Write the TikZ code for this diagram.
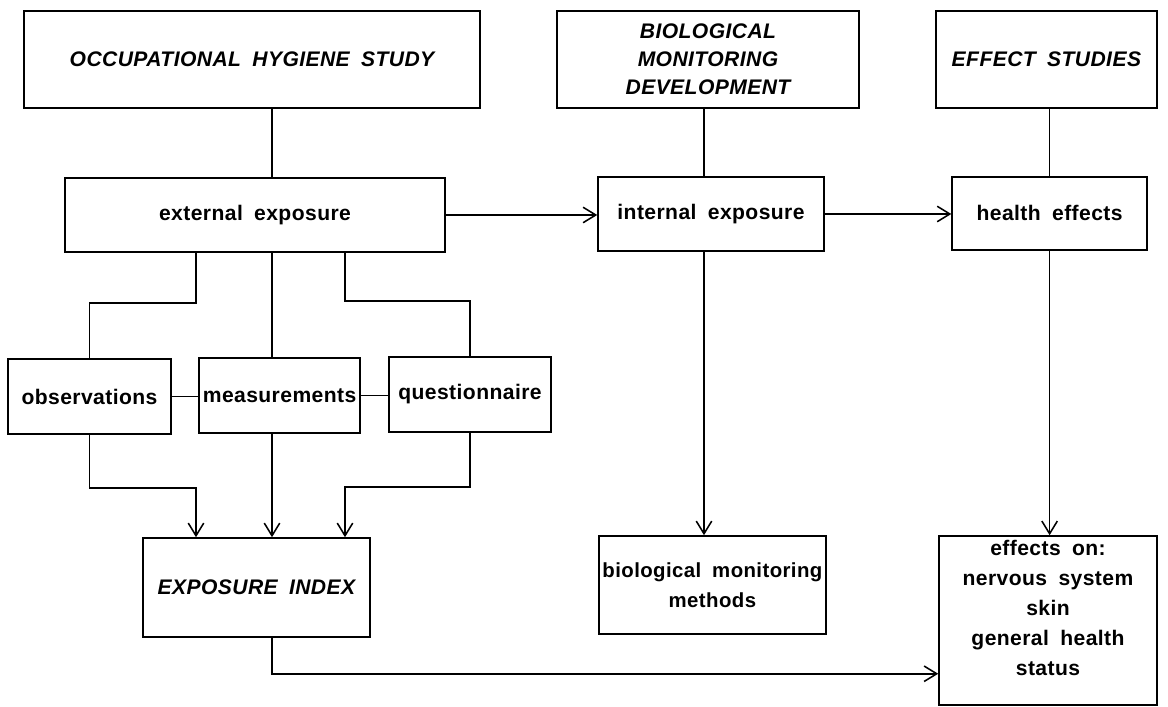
\documentclass[tikz,border=0pt]{standalone}
\usepackage{fontspec}
\setmainfont{Liberation Sans}[LetterSpace=2, WordSpace=1.8]
\usepackage{tikz}
\usetikzlibrary{arrows.meta,calc}
\tikzset{every node/.append style={align=center}}
\tikzset{
    box/.style={draw, line width=1.1pt, inner sep=1pt, font=\fontsize{15}{21}\selectfont\bfseries},
    titlebox/.style={box, font=\fontsize{15}{20}\selectfont\bfseries\itshape},
    link/.style={line width=1.1pt},
    flow/.style={line width=1.1pt, -{Straight Barb[length=9pt, width=11pt]}}
}

\begin{document}
\begin{tikzpicture}
    \useasboundingbox (0, 0) rectangle (29.2, 17.675);

    % Study headings
    \node[titlebox, minimum width=11.4cm, minimum height=2.425cm] (ohs) at (6.3, 16.19) {OCCUPATIONAL HYGIENE STUDY};
    \node[titlebox, minimum width=7.55cm, minimum height=2.425cm] (bmd) at (17.7, 16.19) {BIOLOGICAL\\MONITORING\\DEVELOPMENT};
    \node[titlebox, minimum width=5.525cm, minimum height=2.425cm] (es) at (26.16, 16.19) {EFFECT STUDIES};

    % Exposure row
    \node[box, minimum width=9.5cm, minimum height=1.85cm] (extexp) at (6.375, 12.3) {external exposure};
    \node[box, minimum width=5.65cm, minimum height=1.85cm] (intexp) at (17.775, 12.325) {internal exposure};
    \node[box, minimum width=4.875cm, minimum height=1.825cm] (hef) at (26.24, 12.34) {health effects};

    % Exposure sources
    \node[box, minimum width=4.075cm, minimum height=1.875cm] (obs) at (2.2375, 7.7625) {observations};
    \node[box, minimum width=4.025cm, minimum height=1.875cm] (meas) at (6.99, 7.7875) {measurements};
    \node[box, minimum width=4.05cm, minimum height=1.875cm] (quest) at (11.75, 7.8125) {questionnaire};

    % Results
    \node[titlebox, minimum width=5.675cm, minimum height=2.475cm] (ei) at (6.41, 2.9875) {EXPOSURE INDEX};
    \node[box, minimum width=5.675cm, minimum height=2.45cm, font=\fontsize{14.5}{21}\selectfont\bfseries] (bmm) at (17.81, 3.05) {biological monitoring\\methods};
    \node[box, minimum width=5.45cm, minimum height=4.225cm, text depth=18pt, font=\fontsize{15}{21.5}\selectfont\bfseries] (fx) at (26.2, 2.1625) {effects on:\\nervous system\\skin\\general health\\status};

    % Columns of the connectors
    \coordinate (lcol) at (4.9, 0);
    \coordinate (mcol) at (6.8, 0);
    \coordinate (rcol) at (8.625, 0);
    \coordinate (bcol) at (17.6, 0);

    % Occupational hygiene branch
    \draw[link] (ohs.south -| mcol) -- (extexp.north -| mcol);
    \draw[link] (extexp.south -| lcol) -- ++(0, -1.25) -| (obs.north);
    \draw[link] (extexp.south -| mcol) -- (meas.north -| mcol);
    \draw[link] (extexp.south -| rcol) -- ++(0, -1.2) -| (quest.north);
    \draw[link] (obs.east) -- (meas.west |- obs.east);
    \draw[link] (meas.east) -- (quest.west |- meas.east);
    \draw[flow] (obs.south) -- ++(0, -1.325) -| (ei.north -| lcol);
    \draw[flow] (meas.south -| mcol) -- (ei.north -| mcol);
    \draw[flow] (quest.south) -- ++(0, -1.35) -| (ei.north -| rcol);

    % Exposure chain
    \draw[flow] (extexp.east) -- (intexp.west |- extexp.east);
    \draw[flow] (intexp.east) -- (hef.west |- intexp.east);

    % Biological monitoring branch
    \draw[link] (bmd.south -| bcol) -- (intexp.north -| bcol);
    \draw[flow] (intexp.south -| bcol) -- (bmm.north -| bcol);

    % Effect branch
    \draw[link] (es.south -| hef.north) -- (hef.north);
    \draw[flow] (hef.south) -- (fx.north -| hef.south);
    \draw[flow] (ei.south -| mcol) -- ++(0, -0.9) coordinate (k) -- (k -| fx.west);
\end{tikzpicture}
\end{document}
